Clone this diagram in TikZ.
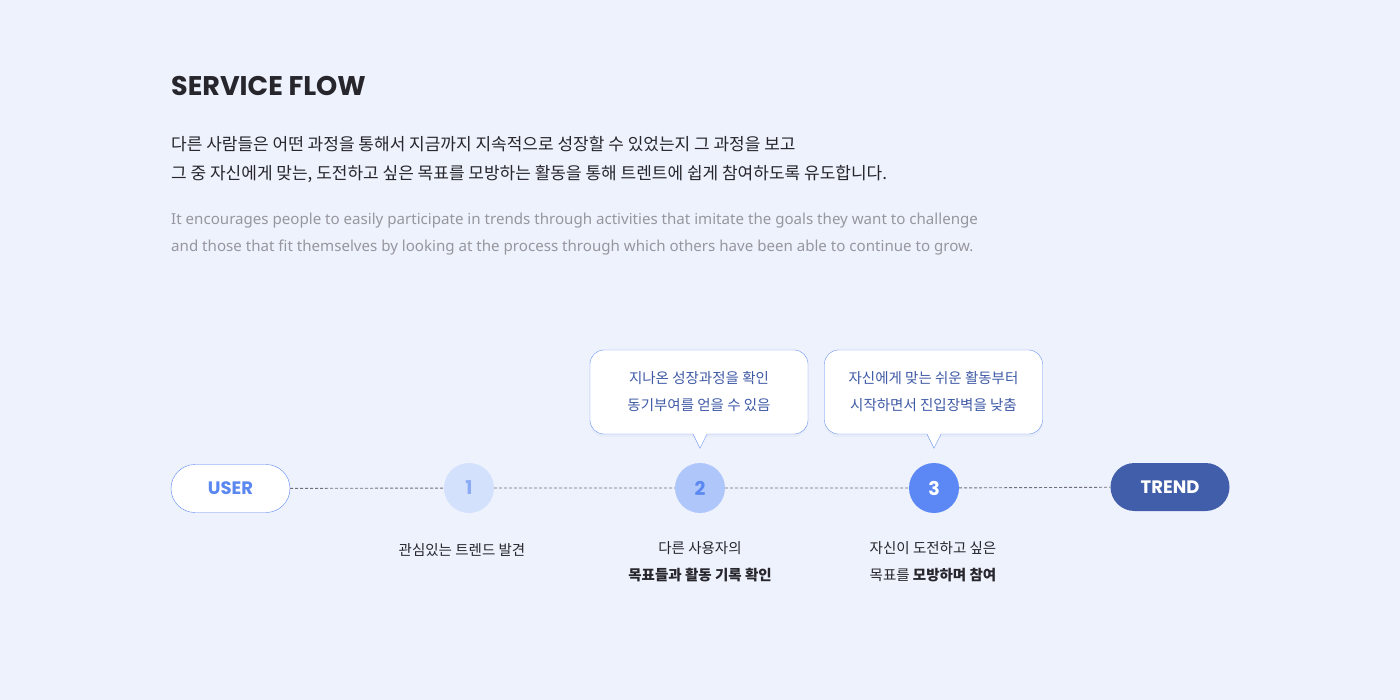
\documentclass[tikz,border=0pt]{standalone}
\usepackage{fontspec}
\setmainfont{Noto Sans CJK KR}
\newfontfamily\popfont{Poppins}
\newfontfamily\enfont{Noto Sans}
\usetikzlibrary{shadows}

\definecolor{bgcol}{HTML}{EEF2FD}
\definecolor{inkcol}{HTML}{26262C}
\definecolor{greycol}{HTML}{96969E}
\definecolor{lineblue}{HTML}{6B92F2}
\definecolor{userblue}{HTML}{5B87F0}
\definecolor{dotone}{HTML}{D4E1FD}
\definecolor{dottwo}{HTML}{AFC6FB}
\definecolor{dotthree}{HTML}{5B88F5}
\definecolor{trendcol}{HTML}{405EA9}
\definecolor{callcol}{HTML}{3F5AA6}
\definecolor{dashcol}{HTML}{707078}

\begin{document}
\begin{tikzpicture}[x=1pt,y=-1pt,every node/.style={inner sep=0pt},
  pill/.style={rounded corners=24pt,minimum width=119pt,minimum height=48pt,
    font=\popfont\bfseries\fontsize{18}{20}\selectfont},
  stepdot/.style={circle,minimum size=50pt,font=\popfont\bfseries\fontsize{19}{20}\selectfont},
  bubble/.style={draw=lineblue,fill=white,rounded corners=14pt,minimum width=218pt,
    minimum height=84pt,align=center,text=callcol,font=\fontsize{14.5}{27}\selectfont,
    drop shadow={opacity=0.04,shadow xshift=0pt,shadow yshift=-3pt,fill=trendcol}},
  caption/.style={align=center,text=inkcol,font=\fontsize{14.5}{27}\selectfont},
  flowline/.style={dashcol,dash pattern=on 3pt off 2pt,line width=0.9pt}]

\fill[bgcol] (0,0) rectangle (1400,700);

% heading and text
\node[anchor=base west,text=inkcol,font=\popfont\bfseries\fontsize{27}{30}\selectfont] (title) at (171,96) {SERVICE FLOW};
\node[anchor=base west,text=inkcol,font=\fontsize{17}{20}\selectfont] (descone) at (171,151) {다른 사람들은 어떤 과정을 통해서 지금까지 지속적으로 성장할 수 있었는지 그 과정을 보고};
\node[anchor=base west,text=inkcol,font=\fontsize{17}{20}\selectfont] (desctwo) at (171,180) {그 중 자신에게 맞는, 도전하고 싶은 목표를 모방하는 활동을 통해 트렌트에 쉽게 참여하도록 유도합니다.};
\node[anchor=base west,text=greycol,font=\enfont\fontsize{15.1}{18}\selectfont] (engone) at (171,225) {It encourages people to easily participate in trends through activities that imitate the goals they want to challenge};
\node[anchor=base west,text=greycol,font=\enfont\fontsize{15.1}{18}\selectfont] (engtwo) at (171,252) {and those that fit themselves by looking at the process through which others have been able to continue to grow.};

% flow
\node[pill,draw=userblue,fill=white,text=userblue] (user) at (230.5,488.5) {USER};
\node[stepdot,fill=dotone,text=userblue!70] (stepone) at (469,488) {1};
\node[stepdot,fill=dottwo,text=userblue] (steptwo) at (700,488) {2};
\node[stepdot,fill=dotthree,text=white] (stepthree) at (934,488) {3};
\node[pill,fill=trendcol,text=white] (trend) at (1170,487) {TREND};
\draw[flowline] (user) -- (stepone) -- (steptwo) -- (stepthree) -- (trend);

% callouts
\node[bubble] (calltwo) at (699,392) {지나온 성장과정을 확인\\동기부여를 얻을 수 있음};
\node[bubble] (callthree) at (933.5,392) {자신에게 맞는 쉬운 활동부터\\시작하면서 진입장벽을 낮춤};
\foreach \c/\s in {calltwo/steptwo,callthree/stepthree}{
  \fill[white] ([xshift=-7pt,yshift=1pt]\c.south -| \s) -- ++(7,15) -- ++(7,-15) -- cycle;
  \draw[lineblue] ([xshift=-7pt]\c.south -| \s) -- ++(7,14) -- ++(7,-14);
}

% captions
\node[caption] (capone) at (462,550) {관심있는 트렌드 발견};
\node[caption] (captwo) at (700,561.5) {다른 사용자의\\\textbf{목표들과 활동 기록 확인}};
\node[caption] (capthree) at (933,561.5) {자신이 도전하고 싶은\\목표를 \textbf{모방하며 참여}};
\end{tikzpicture}
\end{document}
